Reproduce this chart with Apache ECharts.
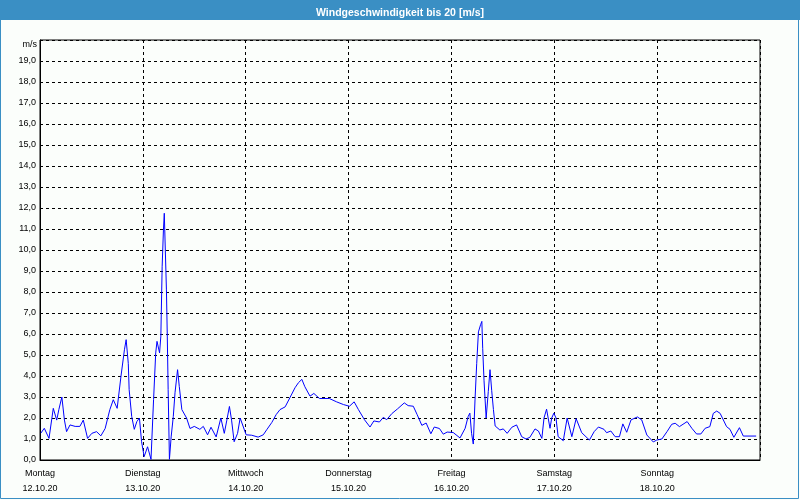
<!DOCTYPE html>
<html>
<head>
<meta charset="utf-8">
<script src="https://cdn.jsdelivr.net/npm/echarts@6/dist/echarts.min.js"></script>
<style>
html,body{margin:0;padding:0;background:#FBFEFB;}
#chart{width:800px;height:500px;}
</style>
</head>
<body>
<div id="chart"></div>
<script>
// Hours since Monday 12.10.20 00:00
const hours = [0.2,1.0,2.1,3.1,3.9,4.4,5.1,5.7,6.2,7.0,8.2,9.3,10.1,11.1,12.1,13.2,14.2,15.2,16.3,17.1,18.0,18.9,19.7,20.1,20.6,20.8,21.4,22.0,22.6,23.2,23.7,24.3,25.1,25.9,26.5,27.0,27.3,27.9,28.2,28.5,28.8,29.0,29.5,29.7,29.9,30.2,30.6,31.1,31.5,32.1,32.5,33.1,34.2,35.0,36.0,37.3,38.1,39.1,39.9,41.1,42.2,43.0,43.6,44.2,44.7,45.3,46.1,46.7,47.1,48.1,49.4,50.9,52.1,52.9,54.1,55.1,56.0,57.2,58.3,59.5,60.3,61.1,61.8,63.0,63.9,65.2,67.5,69.2,70.8,72.2,73.3,74.3,75.7,77.0,77.9,79.2,80.1,80.9,82.1,83.4,85.0,85.9,87.1,88.0,89.1,90.1,91.2,92.0,93.2,94.1,95.0,96.4,98.0,99.2,99.9,100.3,100.7,101.1,101.5,101.9,102.3,102.8,103.1,103.3,103.6,104.1,104.6,105.0,105.4,105.8,106.2,107.3,108.1,109.0,110.1,111.2,112.4,113.4,114.3,115.5,116.3,117.1,117.6,118.2,119.0,119.4,119.9,120.4,120.9,122.1,123.0,124.1,125.1,126.4,128.2,129.3,130.3,131.6,132.2,133.2,134.2,135.2,136.0,136.9,137.9,139.4,140.4,141.6,143.1,143.9,145.1,146.3,147.4,148.2,149.2,151.0,152.1,153.2,154.2,155.2,156.3,157.1,157.9,158.7,160.2,161.0,161.9,163.2,164.1,167.1];
const windSpeed = [1.28,1.51,1.03,2.46,1.9,2.4,3.0,1.9,1.35,1.67,1.6,1.6,1.9,1.03,1.27,1.35,1.15,1.5,2.4,2.87,2.46,4.0,5.25,5.73,4.6,3.35,2.07,1.46,1.83,2.0,0.87,0.16,0.63,0.03,2.87,5.1,5.65,5.1,5.9,9.2,10.95,11.75,8.1,5.9,3.35,0.03,1.1,2.07,3.2,4.3,3.5,2.4,2.0,1.5,1.6,1.46,1.6,1.2,1.56,1.1,2.0,1.27,1.9,2.55,1.9,0.87,1.27,2.0,2.08,1.2,1.18,1.09,1.2,1.44,1.79,2.16,2.4,2.53,2.96,3.44,3.68,3.84,3.49,3.04,3.17,2.93,2.93,2.77,2.64,2.56,2.77,2.4,1.92,1.57,1.86,1.81,2.03,1.92,2.21,2.43,2.72,2.59,2.56,2.16,1.65,1.76,1.25,1.57,1.5,1.23,1.33,1.31,1.05,1.51,2.07,2.23,1.27,0.76,2.86,4.6,6.1,6.44,6.6,5.3,3.8,2.0,3.26,4.3,3.3,2.4,1.62,1.43,1.48,1.27,1.56,1.67,1.11,1.0,1.08,1.48,1.38,1.03,2.0,2.42,1.51,2.0,2.23,2.0,1.11,0.92,2.0,1.11,1.97,1.3,0.95,1.35,1.57,1.46,1.3,1.38,1.11,1.11,1.72,1.32,1.91,2.05,1.91,1.19,0.86,0.95,1.0,1.35,1.7,1.75,1.59,1.83,1.51,1.24,1.24,1.51,1.59,2.22,2.33,2.22,1.59,1.46,1.08,1.54,1.14,1.14];
const dayNames = ['Montag','Dienstag','Mittwoch','Donnerstag','Freitag','Samstag','Sonntag'];
const dayDates = ['12.10.20','13.10.20','14.10.20','15.10.20','16.10.20','17.10.20','18.10.20'];
const titleText = 'Windgeschwindigkeit bis 20 [m/s]';
const unitText = 'm/s';

const data = hours.map((h, i) => [h, windSpeed[i]]);
const font = 'Liberation Sans, Arial, sans-serif';

const chart = echarts.init(document.getElementById('chart'), null, {renderer: 'canvas'});
chart.setOption({
  animation: false,
  backgroundColor: '#FBFEFB',
  title: {
    text: titleText,
    left: 'center',
    top: 3,
    textStyle: {color: '#ffffff', fontSize: 10.5, fontWeight: 'bold', fontFamily: font}
  },
  graphic: [
    {type: 'rect', z: -1, shape: {x: 0, y: 0, width: 800, height: 20}, style: {fill: '#3A8FC4'}},
    {type: 'rect', z: 10, shape: {x: 0.5, y: 0.5, width: 798, height: 498}, style: {fill: 'none', stroke: '#3A8FC4', lineWidth: 1}},
    {type: 'text', x: 37, y: 45, style: {text: unitText, align: 'right', verticalAlign: 'middle', fill: '#000', fontSize: 9, fontFamily: font}}
  ],
  grid: {left: 40, right: 40, top: 40, bottom: 40, show: true, borderColor: '#000', borderWidth: 1, backgroundColor: 'transparent'},
  xAxis: {
    type: 'value', min: 0, max: 168, interval: 24,
    axisLine: {show: true, lineStyle: {color: '#000', width: 1}},
    axisTick: {show: false},
    splitLine: {show: true, lineStyle: {color: '#000', type: [3, 3], width: 1}},
    axisLabel: {
      color: '#000', fontSize: 9, fontFamily: font, margin: 6, lineHeight: 15,
      formatter: function (v) {
        const i = Math.round(v / 24);
        if (i >= dayNames.length) return '';
        return dayNames[i] + '\n' + dayDates[i];
      }
    }
  },
  yAxis: {
    type: 'value', min: 0, max: 20, interval: 1,
    axisLine: {show: true, lineStyle: {color: '#000', width: 1}},
    axisTick: {show: false},
    splitLine: {show: true, lineStyle: {color: '#000', type: [3, 3], width: 1}},
    axisLabel: {
      color: '#000', fontSize: 9, fontFamily: font, margin: 4,
      formatter: function (v) { return v >= 20 ? '' : v.toFixed(1).replace('.', ','); }
    }
  },
  series: [{
    type: 'line', data: data, showSymbol: false, symbol: 'none',
    lineStyle: {color: '#0000FF', width: 1}, z: 5
  }]
});
</script>
</body>
</html>
